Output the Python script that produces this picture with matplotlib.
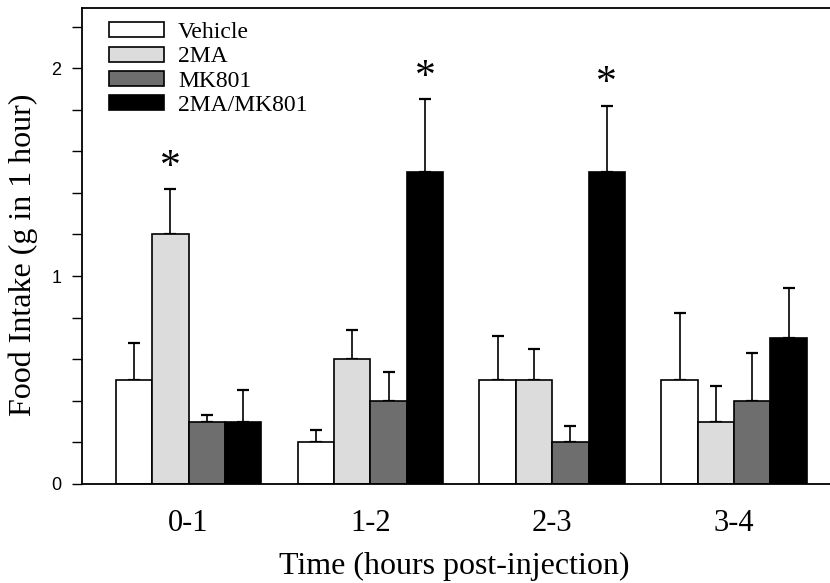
import numpy as np
import matplotlib
matplotlib.use('Agg')
import matplotlib.pyplot as plt
from matplotlib.ticker import MultipleLocator

periods = ['0-1', '1-2', '2-3', '3-4']
groups = ['Vehicle', '2MA', 'MK801', '2MA/MK801']
colors = ['white', '#dcdcdc', '#6e6e6e', 'black']

# mean food intake and upper SEM (g in 1 hour)
vehicle = [0.5, 0.2, 0.5, 0.5]
vehicle_err = [0.18, 0.06, 0.21, 0.32]
ma2 = [1.2, 0.6, 0.5, 0.3]
ma2_err = [0.22, 0.14, 0.15, 0.17]
mk801 = [0.3, 0.4, 0.2, 0.4]
mk801_err = [0.03, 0.14, 0.08, 0.23]
combo = [0.3, 1.5, 1.5, 0.7]
combo_err = [0.15, 0.35, 0.32, 0.24]

# (period index, group index) marked significant
stars = [(0, 1), (1, 3), (2, 3)]

means = [vehicle, ma2, mk801, combo]
errs = [vehicle_err, ma2_err, mk801_err, combo_err]

serif = ['Liberation Serif', 'DejaVu Serif']

fig = plt.figure(figsize=(8.3, 5.83), dpi=100)
ax = fig.add_axes([0.0988, 0.170, 0.905, 0.8165])

x = np.arange(len(periods))
w = 0.2
for i, (m, e) in enumerate(zip(means, errs)):
    pos = x + (i - 1.5) * w
    ax.bar(pos, m, width=w, color=colors[i], edgecolor='black',
           linewidth=1.2, label=groups[i], zorder=2)
    ax.errorbar(pos, m, yerr=[np.zeros(len(m)), e], fmt='none',
                ecolor='black', elinewidth=1.2, capsize=4, capthick=1.6,
                zorder=1)

for p, g in stars:
    top = means[g][p] + errs[g][p]
    ax.text(x[p] + (g - 1.5) * w, top + 0.01, '*', ha='center',
            va='bottom', fontsize=30, family=serif)

ax.set_xlim(-0.586, 3.545)
ax.set_ylim(0, 2.29)
ax.set_xticks(x)
ax.set_xticklabels(periods, family=serif, fontsize=22)
ax.tick_params(axis='x', length=0, pad=18)
ax.set_yticks([0, 1, 2])
ax.set_yticklabels(['0', '1', '2'], family=['Liberation Sans'], fontsize=13)
ax.yaxis.set_minor_locator(MultipleLocator(0.2))
ax.tick_params(axis='y', which='both', direction='out', length=7,
               width=1, pad=8)

ax.spines['right'].set_visible(False)
for s in ['left', 'top', 'bottom']:
    ax.spines[s].set_linewidth(1.3)

ax.set_xlabel('Time (hours post-injection)', family=serif, fontsize=23)
ax.set_ylabel('Food Intake (g in 1 hour)', family=serif, fontsize=23)
ax.xaxis.set_label_coords(0.495, -0.142)
ax.yaxis.set_label_coords(-0.059, 0.481)

ax.legend(loc='upper left', bbox_to_anchor=(0.024, 0.99), frameon=False,
          prop={'family': serif, 'size': 17}, handlelength=2.3,
          handleheight=0.6, labelspacing=0.14, handletextpad=0.6,
          borderaxespad=0)

fig.savefig('out.png', dpi=100)
